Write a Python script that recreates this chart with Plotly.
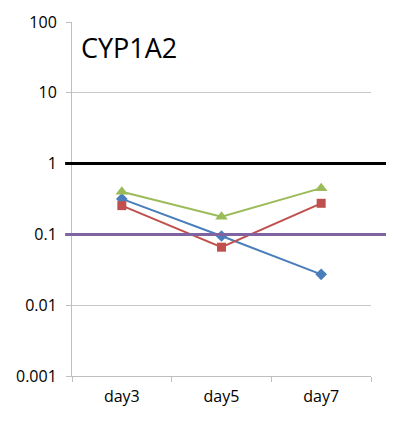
import plotly.graph_objects as go

categories = ["day3", "day5", "day7"]
series_blue = [0.317, 0.095, 0.0273]
series_red = [0.255, 0.066, 0.275]
series_green = [0.40, 0.178, 0.45]
ref_black = 1
ref_purple = 0.1
ytick_vals = [0.001, 0.01, 0.1, 1, 10, 100]
ytick_text = ["0.001", "0.01", "0.1", "1", "10", "100"]
title_text = "CYP1A2"

fig = go.Figure()
fig.add_trace(go.Scatter(x=categories, y=series_blue, mode="lines+markers",
                         line=dict(color="#4A7EBB", width=2),
                         marker=dict(symbol="diamond", size=9, color="#4A7EBB")))
fig.add_trace(go.Scatter(x=categories, y=series_red, mode="lines+markers",
                         line=dict(color="#C0504D", width=2),
                         marker=dict(symbol="square", size=9, color="#C0504D")))
fig.add_trace(go.Scatter(x=categories, y=series_green, mode="lines+markers",
                         line=dict(color="#9BBB59", width=2),
                         marker=dict(symbol="triangle-up", size=11, color="#9BBB59")))

fig.add_shape(type="line", xref="paper", yref="y", x0=-0.023, x1=1.063,
              y0=ref_black, y1=ref_black, line=dict(color="black", width=3), layer="above")
fig.add_shape(type="line", xref="paper", yref="y", x0=-0.023, x1=1.063,
              y0=ref_purple, y1=ref_purple, line=dict(color="#8064A2", width=3), layer="above")

fig.add_annotation(text=title_text, xref="paper", yref="paper", x=0.025, y=0.927,
                   xanchor="left", yanchor="middle", showarrow=False,
                   font=dict(family="Open Sans", size=27, color="black"))

fig.update_layout(
    width=394, height=425,
    margin=dict(l=64, r=31, t=14, b=57),
    paper_bgcolor="white", plot_bgcolor="white",
    showlegend=False,
    font=dict(family="Open Sans", size=16, color="black"),
)
fig.update_xaxes(showgrid=False, showline=True, linecolor="#BFBFBF", linewidth=1,
                 ticks="outside", tickson="boundaries", ticklen=5, tickcolor="#BFBFBF",
                 tickfont=dict(size=16), ticklabelstandoff=6, automargin=False,
                 range=[-0.5, 2.5], fixedrange=True)
fig.update_yaxes(type="log", range=[-3, 2], tickvals=ytick_vals, ticktext=ytick_text,
                 showgrid=True, gridcolor="#C8C8C8", gridwidth=1,
                 showline=True, linecolor="#BFBFBF", linewidth=1,
                 ticks="outside", ticklen=5, tickcolor="#BFBFBF", automargin=False,
                 tickfont=dict(size=16), ticklabelstandoff=6, zeroline=False)

fig.write_html("out.html")
